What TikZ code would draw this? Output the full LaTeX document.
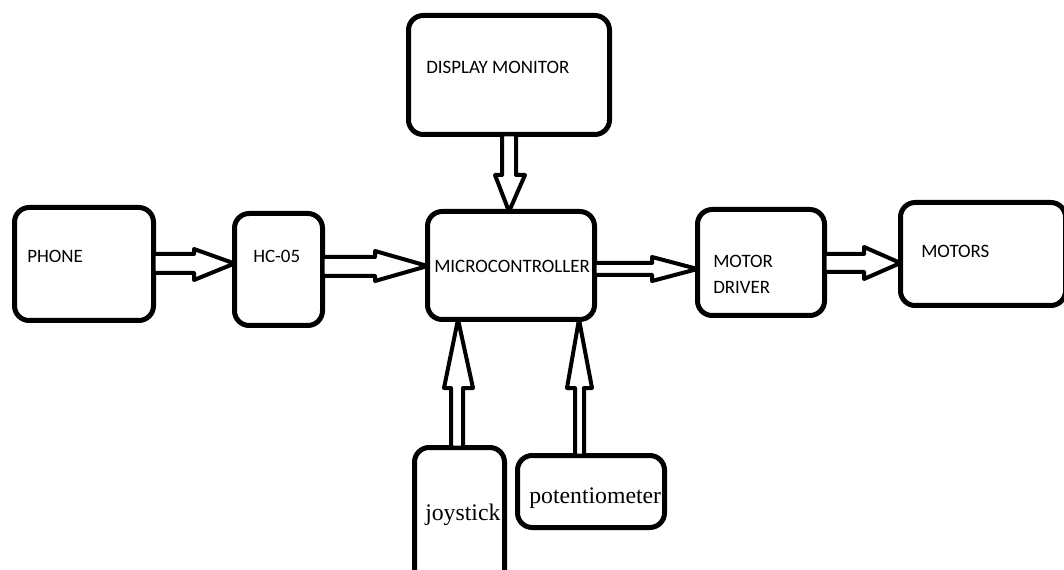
\documentclass[tikz,border=0pt]{standalone}
\usepackage{fontspec}
\setmainfont{Liberation Serif}
\newfontfamily\carl{Carlito}
\begin{document}
\begin{tikzpicture}[x=0.75pt,y=-0.75pt,
  box/.style={draw, line width=3.75pt, rounded corners=11pt, inner sep=0pt, outer sep=0pt},
  barrow/.style={draw, line width=3pt, fill=white, line join=round},
  lab/.style={anchor=base west, inner sep=0pt, font=\carl\fontsize{14.2}{19.5}\selectfont},
  tlab/.style={anchor=base west, inner sep=0pt, font=\fontsize{17.8}{20}\selectfont}]
\clip (0,0) rectangle (1064,570);
% boxes (centres in px, sizes = outer size - line width)
\node[box, minimum width={139*0.75pt}, minimum height={113*0.75pt}] (phone) at (84,264) {};
\node[box, minimum width={88*0.75pt}, minimum height={112*0.75pt}] (hc) at (278.5,269.5) {};
\node[box, minimum width={167*0.75pt}, minimum height={108*0.75pt}] (mc) at (511,265.5) {};
\node[box, minimum width={127*0.75pt}, minimum height={106*0.75pt}] (md) at (761,262.5) {};
\node[box, minimum width={165*0.75pt}, minimum height={103*0.75pt}] (motors) at (983,254) {};
\node[box, minimum width={201*0.75pt}, minimum height={119*0.75pt}] (disp) at (509,75) {};
\node[box, minimum width={90*0.75pt}, minimum height={140*0.75pt}] (joy) at (459.5,517.5) {};
\node[box, minimum width={147*0.75pt}, minimum height={72*0.75pt}] (pot) at (591,491.5) {};
% labels
\node[lab] (tphone) at (27,263) {PHONE};
\node[lab] (thc) at (253,263) {HC-05};
\node[lab] (tmc) at (434,273) {MICROCONTROLLER};
\node[lab] (tmd1) at (713,268) {MOTOR};
\node[lab] (tmd2) at (713,294) {DRIVER};
\node[lab] (tmotors) at (921,258) {MOTORS};
\node[lab] (tdisp) at (426,74) {DISPLAY MONITOR};
\node[tlab] (tjoy) at (425,520) {joystick};
\node[tlab] (tpot) at (529,503) {potentiometer};
% block arrows
\draw[barrow] (phone.east |- 0,254) -- (194,254) -- (194,249) -- (hc.west |- 0,263.5)
  -- (194,280) -- (194,273) -- (phone.east |- 0,273) -- cycle;
\draw[barrow] (hc.east |- 0,257) -- (375,257) -- (375,251) -- (mc.west |- 0,266)
  -- (375,281) -- (375,276) -- (hc.east |- 0,276) -- cycle;
\draw[barrow] (mc.east |- 0,263) -- (652,263) -- (652,257) -- (md.west |- 0,269)
  -- (652,281) -- (652,275) -- (mc.east |- 0,275) -- cycle;
\draw[barrow] (md.east |- 0,254) -- (864,254) -- (864,247) -- (motors.west |- 0,263)
  -- (864,279) -- (864,272) -- (md.east |- 0,272) -- cycle;
\draw[barrow] (disp.south -| 502,0) -- (502,175) -- (495,175) -- (mc.north -| 509,0)
  -- (525,175) -- (516,175) -- (disp.south -| 516,0) -- cycle;
\draw[barrow] (joy.north -| 451,0) -- (451,388) -- (444,388) -- (mc.south -| 458,0)
  -- (473,388) -- (463,388) -- (joy.north -| 463,0) -- cycle;
\draw[barrow] (pot.north -| 575,0) -- (575,388) -- (567,388) -- (mc.south -| 579,0)
  -- (592,388) -- (584,388) -- (pot.north -| 584,0) -- cycle;
\end{tikzpicture}
\end{document}
